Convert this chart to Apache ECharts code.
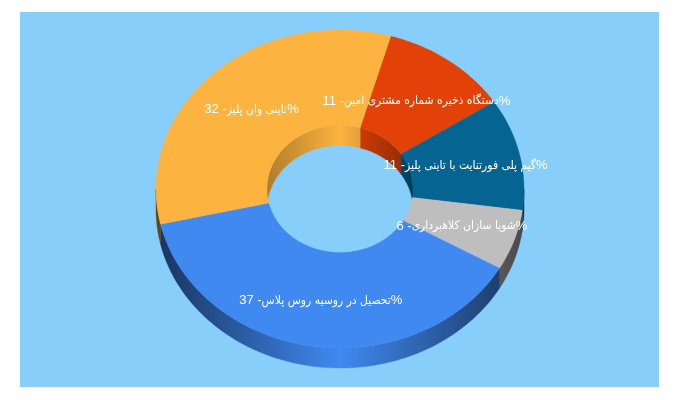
<!DOCTYPE html>
<html><head><meta charset="utf-8">
<style>html,body{margin:0;padding:0;background:#fff}#c{width:680px;height:400px}</style>
<script src="https://cdn.jsdelivr.net/npm/echarts@6/dist/echarts.min.js"></script>
</head><body><div id="c"></div>
<script>
var categories = ['دستگاه ذخیره شماره مشتری امین','گیم پلی فورتنایت با تاینی پلیز','شویا سازان کلاهبرداری','تحصیل در روسیه روس پلاس','تاینی وان پلیز'];
var values = [11,11,6,37,32];
var colors = ['#E24207','#056491','#BEBEBE','#4089F1','#FDB33F'];
var startAngle = 16;
var cx=340, cy=189, rx=184, ry=159, irx=73, iry=63.5, depth=20, labelRatio=0.70, labelDy=1.5;

var total = values.reduce(function(a,b){return a+b;},0);
function spans(){var a=startAngle,o=[];values.forEach(function(v){var b=a+v/total*360;o.push([a,b]);a=b;});return o;}
var arcs = spans();
function pt(t,a,b,dy){var r=t*Math.PI/180;return [cx+a*Math.sin(r),cy-b*Math.cos(r)+(dy||0)];}
function arc(s,e,a,b,dy){var n=Math.max(2,Math.ceil(Math.abs(e-s)/1.5)),o=[];for(var i=0;i<=n;i++)o.push(pt(s+(e-s)*i/n,a,b,dy));return o;}
function shade(hex,f){var n=parseInt(hex.slice(1),16);return 'rgb('+[(n>>16)&255,(n>>8)&255,n&255].map(function(c){return Math.round(c*f);}).join(',')+')';}
function grad(hex,x0,x1,l,r){return {type:'linear',global:true,x:x0,y:0,x2:x1,y2:0,colorStops:[{offset:0,color:shade(hex,l)},{offset:.5,color:shade(hex,1)},{offset:1,color:shade(hex,r)}]};}
function clip(s,e,lo,hi){var out=[];[-360,0,360].forEach(function(k){var a=Math.max(s,lo+k),b=Math.min(e,hi+k);if(b>a)out.push([a,b]);});return out;}
function wall(s,e,a,b){return arc(s,e,a,b,0).concat(arc(s,e,a,b,depth).reverse());}

function wallsItem(params,api){
  var i=params.dataIndex,c=colors[i],kids=[];
  clip(arcs[i][0],arcs[i][1],-90,90).forEach(function(p){
    var f=grad(c,cx-irx,cx+irx,.7,.62);
    kids.push({type:'polygon',shape:{points:wall(p[0],p[1],irx,iry)},style:{fill:f,stroke:f,lineWidth:.4}});
  });
  clip(arcs[i][0],arcs[i][1],90,270).forEach(function(p){
    var f=grad(c,cx-rx,cx+rx,.38,.38);
    kids.push({type:'polygon',shape:{points:wall(p[0],p[1],rx,ry)},style:{fill:f,stroke:f,lineWidth:.4}});
  });
  return {type:'group',children:kids};
}
function topItem(params,api){
  var i=params.dataIndex,s=arcs[i][0],e=arcs[i][1];
  return {type:'polygon',shape:{points:arc(s,e,rx,ry,0).concat(arc(e,s,irx,iry,0))},style:{fill:colors[i],stroke:colors[i],lineWidth:.3}};
}
function labelItem(params,api){
  var i=params.dataIndex,m=pt((arcs[i][0]+arcs[i][1])/2,rx*labelRatio,ry*labelRatio,labelDy);
  return {type:'text',style:{text:'{n|'+api.value(0)+' -}{t|'+categories[i]+'}{n|%}',x:m[0],y:m[1],align:'center',verticalAlign:'middle',fill:'#fff',
    rich:{n:{fill:'#fff',font:'13px "Liberation Sans", Arial, sans-serif'},t:{fill:'#fff',font:'12px "DejaVu Sans Condensed", "DejaVu Sans", sans-serif'}}}};
}
var chart = echarts.init(document.getElementById('c'),null,{renderer:'canvas'});
function series(fn,z){return {type:'custom',coordinateSystem:'none',renderItem:fn,data:values,z:z,silent:true,animation:false,clip:false};}
chart.setOption({
  animation:false,
  backgroundColor:'#fff',
  graphic:[{type:'rect',z:-1,shape:{x:20,y:12,width:639,height:375},style:{fill:'#87CEFA'}}],
  series:[series(wallsItem,2),series(topItem,3),series(labelItem,4)]
});
</script></body></html>
